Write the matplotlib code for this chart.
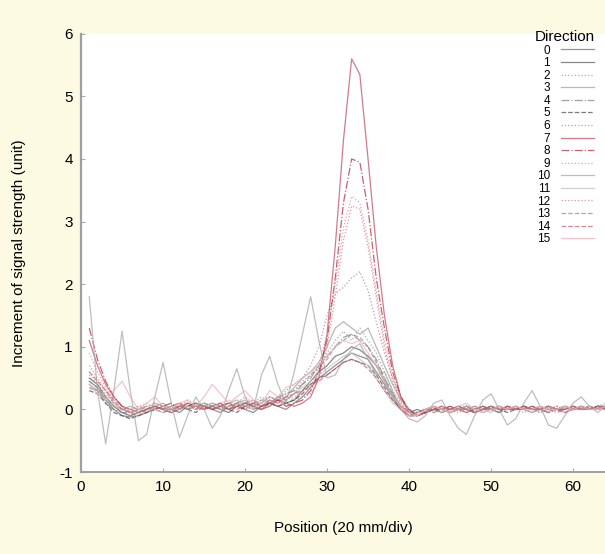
import matplotlib
matplotlib.use("Agg")
import matplotlib.pyplot as plt

plt.rcParams["font.family"] = ["Liberation Sans", "DejaVu Sans"]
plt.rcParams["axes.unicode_minus"] = False

BG = "#fcfae2"

# positions along the sensor line
position = list(range(1, 65))

# increment of signal strength per direction (x = 1 .. 64)
dir0 = [0.45, 0.35, 0.15, 0.0, -0.1,
        -0.12, -0.1, -0.05, 0.0, 0.05, 0.0, -0.05, 0.05, 0.1, 0.05,
        0.0, -0.05, 0.05, 0.1, 0.0, -0.05, 0.05, 0.1, 0.05, 0.0, 0.1, 0.2,
        0.35, 0.5, 0.6, 0.7, 0.8, 0.9, 0.85, 0.8, 0.6, 0.4, 0.2, 0.0, -0.1,
        -0.1, -0.05, 0.0, -0.05, 0.0, 0.05, 0.0, -0.05, 0.0, 0.05, 0.0, 0.0,
        0.05, 0.0, -0.05, 0.0, 0.05, 0.0, 0.0, 0.05, 0.0, 0.0, 0.05, 0.05]
dir1 = [0.5, 0.4, 0.2, 0.05, -0.05,
        -0.1, -0.05, 0.0, 0.05, 0.0, -0.05, 0.0, 0.1, 0.05, 0.0,
        0.05, 0.0, -0.05, 0.05, 0.1, 0.05, 0.0, 0.05, 0.15, 0.1, 0.15, 0.3,
        0.45, 0.6, 0.7, 0.85, 0.9, 1.0, 0.95, 0.85, 0.7, 0.45, 0.2, 0.05, -0.05,
        0.0, -0.05, 0.05, 0.0, -0.05, 0.0, 0.05, 0.0, 0.05, 0.0, -0.05, 0.05,
        0.0, 0.05, 0.0, 0.0, 0.05, 0.0, 0.05, 0.0, 0.05, 0.0, 0.05, 0.0]
dir2 = [0.6, 0.45, 0.3, 0.1, 0.0,
        -0.05, 0.0, 0.05, 0.1, 0.05, 0.0, 0.05, 0.1, 0.05, 0.1,
        0.0, 0.05, 0.1, 0.15, 0.05, 0.1, 0.2, 0.1, 0.15, 0.25, 0.3, 0.45,
        0.55, 0.65, 0.9, 1.1, 1.25, 1.1, 1.3, 1.1, 0.9, 0.6, 0.3, 0.1, -0.05,
        -0.05, 0.0, 0.05, 0.0, 0.05, 0.0, -0.05, 0.0, 0.05, 0.0, 0.0, 0.05,
        0.0, 0.05, 0.0, -0.05, 0.0, 0.05, 0.0, 0.0, 0.05, 0.0, 0.05, 0.1]
dir3 = [0.4, 0.3, 0.15, 0.05, 0.0,
        0.05, 0.0, -0.05, 0.05, 0.1, 0.0, 0.05, 0.0, 0.1, 0.05,
        0.1, 0.05, 0.0, 0.1, 0.15, 0.05, 0.1, 0.2, 0.15, 0.2, 0.35, 0.5,
        0.6, 0.75, 1.0, 1.3, 1.4, 1.3, 1.2, 1.3, 1.0, 0.7, 0.4, 0.15, 0.0,
        -0.1, -0.05, 0.0, 0.05, 0.0, 0.0, 0.05, 0.0, -0.05, 0.0, 0.05, 0.0,
        0.0, 0.05, 0.0, 0.0, 0.05, 0.0, -0.05, 0.0, 0.05, 0.0, 0.05, 0.0]
dir4 = [0.35, 0.3, 0.1, 0.0, -0.05,
        -0.05, 0.0, 0.0, 0.05, 0.0, 0.05, 0.0, 0.05, 0.1, 0.0,
        0.05, 0.1, 0.0, 0.05, 0.1, 0.15, 0.05, 0.1, 0.2, 0.25, 0.3, 0.4,
        0.5, 0.7, 0.85, 1.0, 1.15, 1.2, 1.1, 1.0, 0.8, 0.5, 0.25, 0.05, -0.05,
        -0.05, 0.0, -0.05, 0.0, 0.05, 0.0, 0.0, 0.05, 0.0, 0.0, -0.05, 0.0,
        0.05, 0.0, 0.05, 0.0, 0.0, -0.05, 0.0, 0.05, 0.0, 0.05, 0.0, 0.05]
dir5 = [0.3, 0.25, 0.1, -0.05, -0.1,
        -0.15, -0.1, -0.05, 0.0, -0.05, 0.0, 0.05, 0.0, -0.05, 0.05,
        0.0, 0.05, 0.0, -0.05, 0.05, 0.0, 0.05, 0.1, 0.05, 0.1, 0.15, 0.25,
        0.4, 0.5, 0.55, 0.65, 0.75, 0.8, 0.75, 0.7, 0.55, 0.35, 0.15, 0.0, -0.1,
        -0.1, -0.05, 0.0, 0.0, -0.05, 0.0, 0.05, 0.0, 0.0, 0.05, 0.0, -0.05,
        0.0, 0.05, 0.0, 0.05, 0.0, 0.0, 0.05, 0.0, 0.0, 0.05, 0.0, 0.05]
dir6 = [0.55, 0.4, 0.25, 0.1, 0.0,
        0.0, 0.05, 0.0, 0.1, 0.05, 0.0, 0.1, 0.05, 0.0, 0.1,
        0.05, 0.0, 0.1, 0.15, 0.1, 0.05, 0.15, 0.2, 0.15, 0.3, 0.4, 0.5,
        0.7, 1.0, 1.5, 1.85, 1.95, 2.1, 2.2, 1.9, 1.4, 0.9, 0.5, 0.2, 0.0,
        -0.05, 0.0, 0.05, 0.0, 0.0, 0.05, 0.0, -0.05, 0.0, 0.05, 0.0, 0.0,
        0.05, 0.0, 0.0, 0.05, 0.0, 0.0, 0.05, 0.0, 0.05, 0.0, 0.0, 0.05]
dir7 = [1.1, 0.7, 0.4, 0.2, 0.05,
        0.0, -0.05, 0.0, 0.05, 0.0, 0.05, 0.1, 0.0, 0.05, 0.0,
        0.05, 0.1, 0.0, 0.05, 0.1, 0.05, 0.0, 0.1, 0.05, 0.1, 0.05, 0.1,
        0.2, 0.5, 1.2, 2.6, 4.3, 5.6, 5.35, 4.0, 2.6, 1.5, 0.7, 0.2, -0.05,
        -0.1, -0.05, 0.0, 0.0, 0.05, 0.0, -0.05, 0.0, 0.05, 0.0, 0.05, 0.0,
        0.0, 0.05, 0.0, 0.0, 0.05, 0.0, 0.0, 0.05, 0.0, 0.05, 0.0, 0.05]
dir8 = [1.3, 0.8, 0.45, 0.2, 0.05,
        -0.05, 0.0, 0.05, 0.0, 0.05, 0.1, 0.0, 0.05, 0.1, 0.05,
        0.0, 0.05, 0.1, 0.05, 0.0, 0.1, 0.05, 0.1, 0.15, 0.05, 0.1, 0.15,
        0.3, 0.6, 1.1, 2.1, 3.3, 4.0, 3.95, 3.2, 2.1, 1.3, 0.6, 0.2, 0.0,
        -0.1, -0.05, 0.0, 0.05, 0.0, 0.0, 0.05, -0.05, 0.0, 0.05, 0.0, 0.05,
        0.0, 0.0, 0.05, 0.0, -0.05, 0.0, 0.05, 0.0, 0.05, 0.0, 0.05, 0.05]
dir9 = [0.9, 0.6, 0.35, 0.15, 0.05,
        0.0, 0.05, 0.1, 0.0, 0.05, 0.0, 0.1, 0.05, 0.0, 0.1,
        0.05, 0.1, 0.15, 0.05, 0.1, 0.15, 0.1, 0.05, 0.2, 0.15, 0.2, 0.3,
        0.35, 0.7, 1.2, 2.0, 2.9, 3.4, 3.3, 2.7, 1.9, 1.1, 0.5, 0.15, -0.05,
        -0.1, 0.0, 0.05, 0.0, -0.05, 0.0, 0.05, 0.0, 0.05, 0.0, 0.0, 0.05,
        0.0, -0.05, 0.0, 0.05, 0.0, 0.05, 0.0, 0.0, 0.05, 0.0, 0.0, 0.05]
dir10 = [1.8, 0.3, -0.55, 0.3, 1.25,
         0.3, -0.5, -0.4, 0.2, 0.75, 0.1, -0.45, -0.1, 0.2, 0.0,
         -0.3, -0.1, 0.3, 0.65, 0.2, 0.0, 0.55, 0.85, 0.4, 0.1, 0.6, 1.2,
         1.8, 1.1, 0.5, 0.55, 0.8, 0.95, 1.05, 0.8, 0.55, 0.6, 0.3, 0.0, -0.15,
         -0.2, -0.1, 0.1, 0.15, -0.1, -0.3, -0.4, -0.1, 0.15, 0.25, 0.0, -0.25,
         -0.15, 0.1, 0.3, 0.05, -0.25, -0.3, -0.1, 0.1, 0.2, 0.05, -0.05, 0.05]
dir11 = [0.3, 0.35, 0.2, 0.05, 0.0,
         -0.05, 0.0, 0.05, 0.0, -0.05, 0.05, 0.0, 0.05, 0.0, 0.05,
         0.1, 0.0, 0.05, 0.1, 0.05, 0.0, 0.1, 0.15, 0.1, 0.15, 0.25, 0.35,
         0.45, 0.55, 0.65, 0.75, 0.85, 0.9, 0.8, 0.7, 0.5, 0.3, 0.1, 0.0, -0.05,
         -0.1, 0.0, 0.05, 0.0, -0.05, 0.0, 0.05, 0.0, 0.0, -0.05, 0.05, 0.0,
         0.05, 0.0, -0.05, 0.0, 0.05, 0.0, 0.05, 0.0, 0.0, 0.05, 0.0, 0.0]
dir12 = [0.7, 0.5, 0.3, 0.1, 0.0,
         -0.05, 0.05, 0.0, 0.1, 0.05, 0.0, 0.05, 0.15, 0.05, 0.0,
         0.1, 0.05, 0.0, 0.1, 0.2, 0.1, 0.05, 0.15, 0.1, 0.2, 0.15, 0.2,
         0.25, 0.5, 1.0, 1.8, 2.7, 3.25, 3.2, 2.6, 1.8, 1.0, 0.45, 0.1, -0.1,
         -0.1, -0.05, 0.0, 0.05, 0.0, -0.05, 0.0, 0.05, 0.0, 0.0, 0.05, 0.0,
         0.05, 0.0, 0.0, -0.05, 0.0, 0.05, 0.0, 0.05, 0.0, 0.0, 0.05, 0.0]
dir13 = [0.45, 0.35, 0.2, 0.05, -0.05,
         -0.1, -0.05, 0.0, 0.05, 0.0, 0.0, 0.05, 0.0, 0.05, 0.1,
         0.05, 0.0, 0.05, 0.1, 0.05, 0.1, 0.15, 0.1, 0.2, 0.15, 0.25, 0.4,
         0.55, 0.7, 0.8, 1.0, 1.1, 1.2, 1.15, 1.0, 0.75, 0.5, 0.25, 0.05, -0.1,
         -0.05, 0.0, 0.05, 0.0, 0.0, 0.05, 0.0, -0.05, 0.0, 0.05, 0.0, 0.0,
         0.05, 0.0, 0.05, 0.0, -0.05, 0.0, 0.05, 0.0, 0.0, 0.05, 0.0, 0.05]
dir14 = [0.6, 0.45, 0.3, 0.15, 0.0,
         -0.05, -0.1, 0.0, 0.05, 0.0, -0.05, 0.05, 0.1, 0.0, 0.05,
         0.0, 0.05, 0.1, 0.0, 0.05, 0.1, 0.05, 0.15, 0.1, 0.2, 0.25, 0.3,
         0.4, 0.45, 0.55, 0.65, 0.75, 0.8, 0.75, 0.65, 0.5, 0.3, 0.15, 0.0, -0.1,
         -0.05, 0.0, 0.0, 0.05, 0.0, 0.05, 0.0, -0.05, 0.0, 0.0, 0.05, 0.0,
         0.0, 0.05, 0.0, 0.0, 0.05, 0.0, -0.05, 0.0, 0.05, 0.0, 0.05, 0.0]
dir15 = [0.4, 0.25, 0.15, 0.3, 0.45,
         0.2, 0.0, 0.1, 0.2, 0.05, 0.0, 0.1, 0.15, 0.05, 0.2,
         0.4, 0.25, 0.1, 0.2, 0.3, 0.15, 0.1, 0.3, 0.2, 0.35, 0.4, 0.5,
         0.6, 0.7, 0.85, 1.0, 1.1, 1.05, 1.1, 0.9, 0.7, 0.45, 0.2, 0.05, -0.1,
         -0.1, 0.0, 0.05, 0.0, -0.05, 0.05, 0.1, 0.0, -0.05, 0.0, 0.05, 0.0,
         0.05, 0.0, 0.0, 0.05, 0.0, 0.0, 0.05, 0.0, 0.05, 0.0, 0.0, 0.05]

series = [dir0, dir1, dir2, dir3, dir4, dir5, dir6, dir7,
          dir8, dir9, dir10, dir11, dir12, dir13, dir14, dir15]

colors = ["#707070", "#606060", "#909090", "#a0a0a0", "#808080", "#505050",
          "#a08080", "#c05060", "#b03040", "#e08090", "#a8a8a8", "#c0c0c0",
          "#e07080", "#909090", "#d06070", "#f0b0b8"]
styles = ["-", "-", ":", "-", "-.", "--", ":", "-",
          "-.", ":", "-", "-", ":", "--", "--", "-"]

fig = plt.figure(figsize=(6.05, 5.54), dpi=100, facecolor=BG)
ax = fig.add_axes([0.134, 0.148, 0.866, 0.791])
ax.set_facecolor("white")

for i, ys in enumerate(series):
    ax.plot(position, ys, color=colors[i], linestyle=styles[i],
            linewidth=0.9, alpha=0.75, label=str(i))

ax.set_xlim(0, 63.9)
ax.set_ylim(-1, 6)
ax.set_xticks([0, 10, 20, 30, 40, 50, 60])
ax.set_yticks([-1, 0, 1, 2, 3, 4, 5, 6])
ax.tick_params(direction="in", length=3, color="#aaaaaa", labelsize=11, pad=6)

for side in ["top", "right"]:
    ax.spines[side].set_visible(False)
ax.spines["left"].set_color("#a0a0a0")
ax.spines["left"].set_linewidth(1.6)
ax.spines["bottom"].set_color("#a0a0a0")
ax.spines["bottom"].set_linewidth(1.4)

ax.set_xlabel("Position (20 mm/div)", fontsize=11, labelpad=19)
ax.set_ylabel("Increment of signal strength (unit)", fontsize=11, labelpad=24)

leg = ax.legend(title="Direction", loc="upper right", bbox_to_anchor=(0.995, 1.025),
                frameon=False, fontsize=8.5, title_fontsize=11, markerfirst=False,
                labelspacing=0.05, handlelength=2.8, handletextpad=0.9,
                borderaxespad=0.2)
for t in leg.get_texts():
    t.set_ha("right")

fig.savefig("out.png", dpi=100, facecolor=BG)
